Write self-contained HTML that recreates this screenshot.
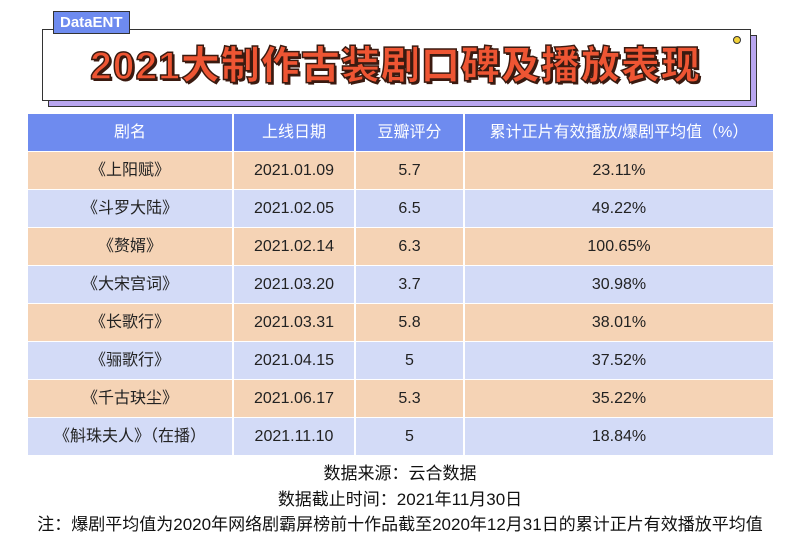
<!DOCTYPE html>
<html><head><meta charset="utf-8">
<style>
body{margin:0;width:800px;height:541px;background:#fff;font-family:"Liberation Sans","Noto Sans CJK SC",sans-serif;position:relative;overflow:hidden}
.shadow{position:absolute;left:48px;top:35px;width:707px;height:70px;background:#b9a6f0;border:1.5px solid #333}
.box{position:absolute;left:42px;top:29px;width:707px;height:70px;background:#fff;border:1.5px solid #333}
.tag{position:absolute;left:53px;top:11px;background:#6e8bef;color:#fff;font-weight:bold;font-size:15px;padding:2px 6px;border:1.5px solid #333}
.title{position:absolute;left:42px;top:29px;width:707px;height:70px;text-align:center;line-height:76px;font-size:39px;font-weight:900;color:#ee5533;letter-spacing:1px;-webkit-text-stroke:1.5px #3a1a10;text-shadow:2px 2px 0 #3a1a10}
.dot{position:absolute;left:733px;top:36px;width:6px;height:6px;border-radius:50%;background:#f2d23a;border:1px solid #333}
.tbl{position:absolute;left:28px;top:114px;width:745px;font-size:16px;color:#222}
.r{display:flex;height:38px;box-sizing:border-box;border-bottom:1px solid #fff}
.r.h{height:38px;background:#6e8bef;color:#fff}
.r>div{display:flex;align-items:center;justify-content:center;border-right:2px solid #fff;box-sizing:border-box;height:100%;line-height:1}
.r>div:nth-child(1){width:206px}.r>div:nth-child(2){width:122px}.r>div:nth-child(3){width:109px}.r>div:nth-child(4){flex:1;border-right:none}
.r.p{background:#f5d3b5}.r.l{background:#d3dbf7}
.f{position:absolute;left:0;width:800px;text-align:center;font-size:17px;color:#111}
</style></head><body>
<div class="shadow"></div>
<div class="box"></div>
<div class="title">2021大制作古装剧口碑及播放表现</div>
<div class="tag">DataENT</div>
<div class="dot"></div>
<div class="tbl">
<div class="r h"><div>剧名</div><div>上线日期</div><div>豆瓣评分</div><div>累计正片有效播放/爆剧平均值（%）</div></div>
<div class="r p"><div>《上阳赋》</div><div>2021.01.09</div><div>5.7</div><div>23.11%</div></div>
<div class="r l"><div>《斗罗大陆》</div><div>2021.02.05</div><div>6.5</div><div>49.22%</div></div>
<div class="r p"><div>《赘婿》</div><div>2021.02.14</div><div>6.3</div><div>100.65%</div></div>
<div class="r l"><div>《大宋宫词》</div><div>2021.03.20</div><div>3.7</div><div>30.98%</div></div>
<div class="r p"><div>《长歌行》</div><div>2021.03.31</div><div>5.8</div><div>38.01%</div></div>
<div class="r l"><div>《骊歌行》</div><div>2021.04.15</div><div>5</div><div>37.52%</div></div>
<div class="r p"><div>《千古玦尘》</div><div>2021.06.17</div><div>5.3</div><div>35.22%</div></div>
<div class="r l"><div>《斛珠夫人》（在播）</div><div>2021.11.10</div><div>5</div><div>18.84%</div></div>
</div>
<div class="f" style="top:459px">数据来源：云合数据</div>
<div class="f" style="top:485px">数据截止时间：2021年11月30日</div>
<div class="f" style="top:510px">注：爆剧平均值为2020年网络剧霸屏榜前十作品截至2020年12月31日的累计正片有效播放平均值</div>
</body></html>
